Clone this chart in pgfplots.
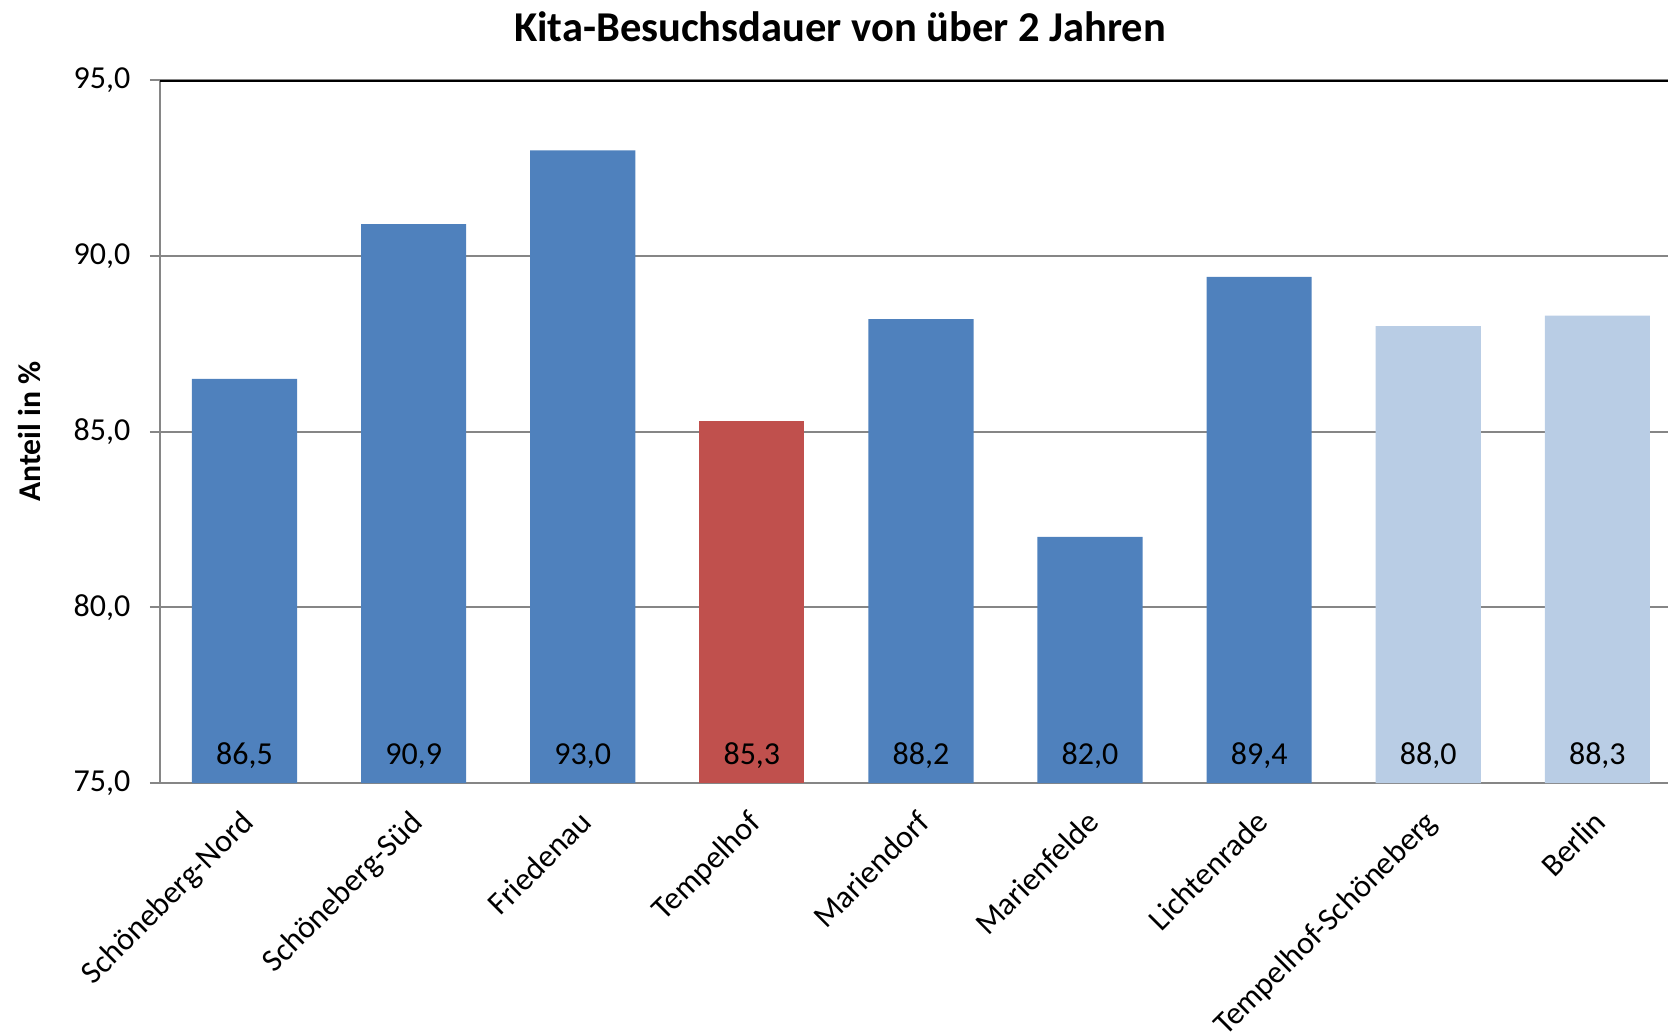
\documentclass[border=0pt]{standalone}
\usepackage{pgfplots}
\pgfplotsset{compat=1.18}
\usepackage{fontspec}
\setmainfont{Carlito}
\definecolor{cblue}{HTML}{4F81BD}
\definecolor{cred}{HTML}{C0504D}
\definecolor{clight}{HTML}{B9CDE5}
\definecolor{cgrid}{HTML}{868686}
\begin{document}
\begin{tikzpicture}
\path[use as bounding box] (-48pt,-75.6pt) rectangle (452.4pt,234.9pt);
\begin{axis}[
  scale only axis,
  width=452.4pt, height=210.9pt,
  xmin=-0.5, xmax=8.418,
  ymin=75, ymax=95,
  ytick={75,80,85,90,95},
  axis x line*=bottom, axis y line*=left,
  axis line style={cgrid, line width=0.6pt, -},
  ymajorgrids, grid style={cgrid, line width=0.6pt},
  xtick={0,...,8},
  xticklabels={Schöneberg-Nord,Schöneberg-Süd,Friedenau,Tempelhof,Mariendorf,Marienfelde,Lichtenrade,Tempelhof-Schöneberg,Berlin},
  major x tick style={draw=none},
  extra x ticks={-0.5,0.5,1.5,2.5,3.5,4.5,5.5,6.5,7.5},
  extra x tick labels={},
  extra x tick style={major tick length=2.7pt, tick style={cgrid, line width=0.6pt}, tick align=outside, grid=none},
  tick align=outside,
  major tick length=3pt,
  y tick style={cgrid, line width=0.6pt},
  xticklabel style={xshift=-1.6pt, yshift=0.3pt, rotate=45, anchor=north east, font=\fontsize{9.6}{11}\selectfont},
  yticklabel style={font=\fontsize{9.6}{11}\selectfont, xshift=-2.4pt},
  /pgf/number format/assume math mode=true,
  yticklabel={\pgfmathprintnumber[fixed, fixed zerofill, precision=1, use comma]{\tick}},
  ylabel={Anteil in \%},
  ylabel style={font=\bfseries\fontsize{9.5}{11}\selectfont, at={(axis description cs:-0.0862,0.5)}, anchor=center},
  ybar, bar width=0.622, bar shift=0pt,
  clip=true,
]
\addplot[fill=cblue, draw=none] coordinates {(0,86.5) (1,90.9) (2,93.0) (4,88.2) (5,82.0) (6,89.4)};
\addplot[fill=cred, draw=none] coordinates {(3,85.3)};
\addplot[fill=clight, draw=none] coordinates {(7,88.0) (8,88.3)};
\addplot[draw=none, mark=none, nodes near coords,
  point meta=explicit,
  nodes near coords={\pgfmathprintnumber[fixed, fixed zerofill, precision=1, use comma, assume math mode=true]{\pgfplotspointmeta}},
  every node near coord/.style={anchor=base, yshift=5.5pt, font=\fontsize{9.6}{11}\selectfont, black}]
  coordinates {(0,75)[86.5] (1,75)[90.9] (2,75)[93.0] (3,75)[85.3] (4,75)[88.2] (5,75)[82.0] (6,75)[89.4] (7,75)[88.0] (8,75)[88.3]};
\draw[black, line width=0.9pt] (rel axis cs:0,1) -- (rel axis cs:1,1);
\end{axis}
\node[font=\bfseries\fontsize{12.75}{15}\selectfont] at (204pt,227pt) {Kita-Besuchsdauer von über 2 Jahren};
\end{tikzpicture}
\end{document}
